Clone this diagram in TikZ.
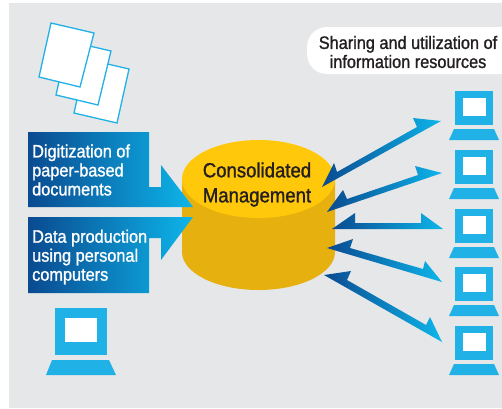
\documentclass[tikz,border=0pt]{standalone}
\usepackage{fontspec}
\setmainfont[FakeStretch=0.905,FakeBold=1.2]{Liberation Sans}
\usetikzlibrary{positioning}
\definecolor{panelgray}{HTML}{E6E7E8}
\definecolor{pccyan}{HTML}{20B1E7}
\definecolor{dbtop}{HTML}{FFC80A}
\definecolor{dbside}{HTML}{E6B00F}
\definecolor{flowdark}{HTML}{0A4A90}
\definecolor{flowmid}{HTML}{0072B0}
\definecolor{flowlight}{HTML}{0DB5EA}
\definecolor{inkdark}{HTML}{231F20}
\tikzset{
    flow/.style={left color=flowdark, middle color=flowmid, right color=flowlight},
    sheet/.style={draw=pccyan, fill=white, line width=1.3pt},
    boxtext/.style={text=white, align=left, anchor=west, inner sep=0pt, font=\fontsize{18}{19}\selectfont},
    darktext/.style={text=inkdark, align=center, inner sep=0pt}
}
% monitor and base, #1 = left edge, #2 = top edge
\newcommand{\smallpc}[2]{
    \fill [pccyan] (#1,#2) rectangle ++(38,34);
    \fill [white] (#1+8,#2+7) rectangle ++(23,18);
    \fill [pccyan] (#1-1,#2+38) -- ++(40,0) -- ++(5,11) -- ++(-50,0) -- cycle;
}
\begin{document}
\begin{tikzpicture}[x=1pt, y=-1pt]
    \useasboundingbox (0,0) rectangle (502,408);
    \fill [panelgray] (9,3) rectangle (502,408);

    % paper sheets
    \draw [sheet] (86,59) -- (129,69) -- (117,123) -- (74,113) -- cycle;
    \draw [sheet] (68,41) -- (111,51) -- (98,105) -- (56,95) -- cycle;
    \draw [sheet] (51,23) -- (94,33) -- (80,87) -- (39,77) -- cycle;

    % database
    \fill [dbside] (182,179) -- (182,252) arc [start angle=180, end angle=0, x radius=76.5, y radius=38] -- (335,179) -- cycle;
    \fill [dbtop] (258.5,179) ellipse [x radius=76.5, y radius=39];
    \node [darktext, font=\fontsize{20.5}{25}\selectfont] (db) at (257,184.5) {Consolidated\\Management};

    % input arrows
    \shade [flow] (28,132) -- (149,132) -- (149,187) -- (161,187) -- (161,165) -- (193,207) -- (28,207) -- cycle;
    \shade [flow] (28,217) -- (193,217) -- (161,260) -- (161,238) -- (149,238) -- (149,293) -- (28,293) -- cycle;
    \node [boxtext] (digit) at (32,170) {Digitization of\\paper-based\\documents};
    \node [boxtext] (dataprod) at (32,257) {Data production\\using personal\\computers};

    % left computer
    \fill [pccyan] (55,308) rectangle (107,355);
    \fill [white] (65,318) rectangle (97,342);
    \fill [pccyan] (52,360) -- (109,360) -- (116,375) -- (46,375) -- cycle;

    % right computers
    \foreach \y in {91,150,209,267,326} {
        \smallpc{455}{\y}
    }

    % links
    \foreach \tl/\bl/\nl/\nr/\br/\tr in {
        {322,187}/{334,163}/{337,172}/{417,127}/{413,118}/{441,121},
        {327,212}/{343,190}/{347,199}/{418,175}/{415,166}/{442,173},
        {332,229}/{355,213}/{355,223}/{421,223}/{421,213}/{443,229},
        {327,248}/{353,239}/{350,248}/{423,269}/{425,261}/{442,282},
        {324,275}/{351,271}/{347,280}/{426,325}/{430,317}/{442,342}} {
        \shade [flow] (\tl) -- (\bl) -- (\nl) -- (\nr) -- (\br) -- (\tr) -- cycle;
    }

    % caption
    \fill [white, rounded corners=20pt] (307,27) rectangle (520,74);
    \node [darktext, font=\fontsize{18}{19}\selectfont] (share) at (408,52) {Sharing and utilization of\\information resources};
\end{tikzpicture}
\end{document}
